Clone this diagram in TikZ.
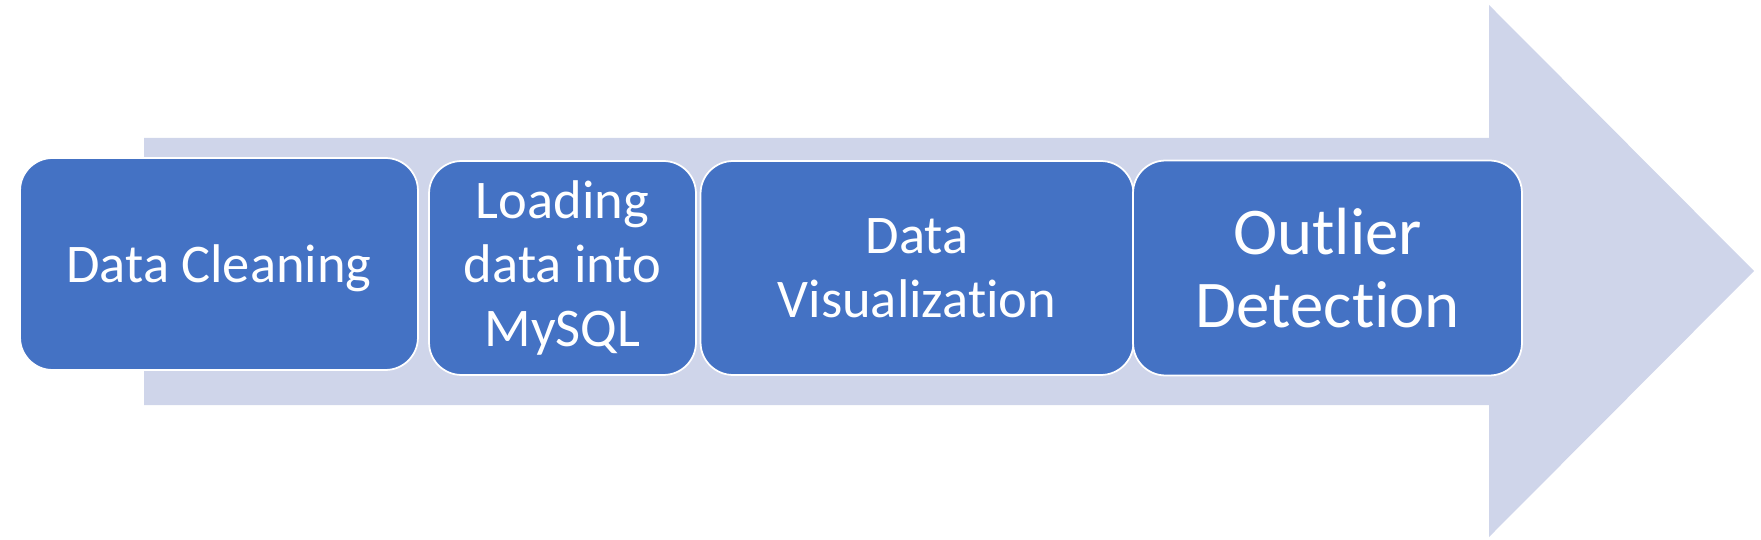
\documentclass[tikz,border=0pt]{standalone}
\usepackage{fontspec}
\setmainfont{Carlito}[Ligatures=NoCommon]
\usepackage{xcolor}
\usepackage{tikz}
\definecolor{stagefill}{HTML}{4472C4}
\definecolor{arrowfill}{HTML}{CFD5EA}

\begin{document}
\begin{tikzpicture}[x=0.02cm, y=-0.02cm,
                    stage/.style={draw=white, line width=1pt,
                    fill=stagefill, text=white, rounded corners=0.65cm,
                    align=center, inner sep=0pt,
                    font=\fontsize{31}{36.5}\selectfont}]
                    \useasboundingbox (0,0) rectangle (1761,540);
                    % big arrow behind the stages
                    \fill[arrowfill] (144,138) -- (1489,138) -- (1489,5)
                    -- (1754,271) -- (1489,537) -- (1489,405)
                    -- (144,405) -- cycle;
                    % stages
                    \node[stage, minimum width=7.96cm, minimum height=4.24cm,
                    text depth=0pt]
                    (cleaning) at (219,264) {Data Cleaning};
                    \node[stage, minimum width=5.34cm, minimum height=4.28cm]
                    (loading) at (562.5,268) {Loading\\data into\\MySQL};
                    \node[stage, minimum width=8.66cm, minimum height=4.28cm]
                    (visual) at (917,268) {Data\\Visualization};
                    \node[stage, minimum width=7.78cm, minimum height=4.30cm,
                    font=\fontsize{38}{42}\selectfont]
                    (outlier) at (1327.5,268) {Outlier\\Detection};
                \end{tikzpicture}
\end{document}
